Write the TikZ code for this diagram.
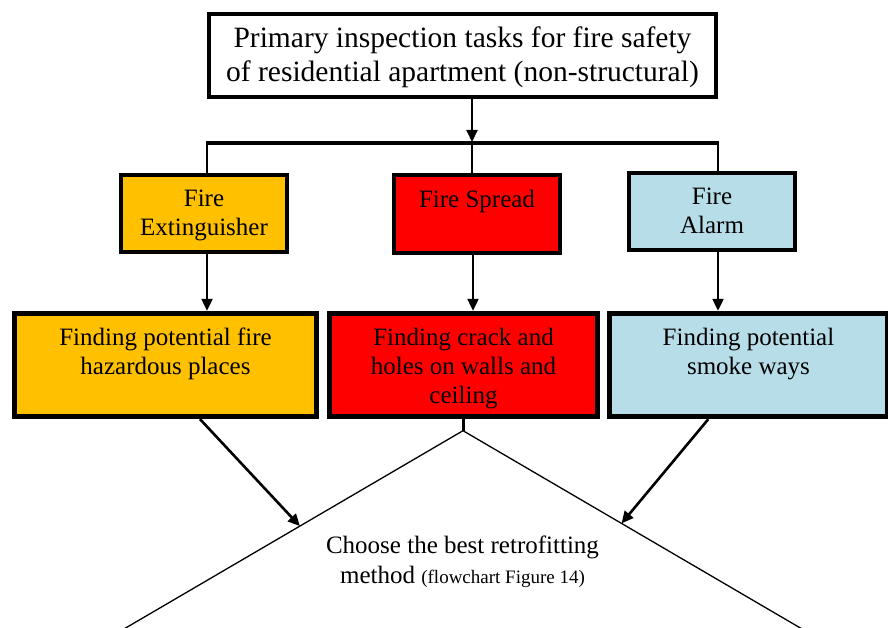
\documentclass[tikz,border=0pt]{standalone}
\usepackage{fontspec}
\setmainfont{Liberation Serif}
\usetikzlibrary{arrows.meta,calc}
\definecolor{orgfill}{HTML}{FFC000}
\definecolor{redfill}{HTML}{FF0000}
\definecolor{bluefill}{HTML}{B7DEE8}
\newcommand\boxtxt[2]{\parbox[t]{#1}{\centering #2}}
\newcommand\fntTop{\fontsize{29.5}{34}\selectfont}
\newcommand\fntBox{\fontsize{25}{29}\selectfont}
\newcommand\fntChoose{\fontsize{25}{30}\selectfont}
\newcommand\fntSmall{\fontsize{19}{22}\selectfont}
\begin{document}
\begin{tikzpicture}[x=1pt,y=-1pt,
  bx/.style={draw=black, line width=4pt, inner sep=0pt, anchor=center},
  lowbx/.style={draw=black, line width=4.8pt, inner sep=0pt, anchor=center, text height=31.75pt, text depth=71.75pt},
  busline/.style={line width=4pt},
  conn/.style={line width=2pt},
  arr/.style={line width=2pt, -{Triangle[length=12pt,width=11pt]}},
  diagarr/.style={line width=2.6pt, -{Triangle[length=12pt,width=11pt]}},
  dia/.style={line width=1.3pt}]
\useasboundingbox (0,0) rectangle (888,628);

% boxes
\node[bx, fill=white, text height=34pt, text depth=49pt] (top) at (462.5,55.5)
  {\boxtxt{507pt}{\fntTop Primary inspection tasks for fire safety\\of residential apartment (non-structural)}};
\node[bx, fill=orgfill, text height=32pt, text depth=45pt] (ext) at (204,213.5)
  {\boxtxt{166pt}{\fntBox Fire\\Extinguisher}};
\node[bx, fill=redfill, text height=33pt, text depth=45pt] (spr) at (477,214)
  {\boxtxt{166pt}{\fntBox Fire Spread}};
\node[bx, fill=bluefill, text height=32pt, text depth=45pt] (alm) at (712,211.5)
  {\boxtxt{166pt}{\fntBox Fire\\Alarm}};

\node[lowbx, fill=orgfill] (lowL) at (165.5,365)
  {\boxtxt{302.5pt}{\fntBox Finding potential fire\\hazardous places}};
\node[lowbx, fill=redfill] (lowM) at (463.5,365)
  {\boxtxt{268.5pt}{\fntBox Finding crack and\\holes on walls and\\ceiling}};
\node[lowbx, fill=bluefill] (lowR) at (748.5,365)
  {\boxtxt{278.5pt}{\fntBox Finding potential\\smoke ways}};

% decision
\coordinate (apex) at (463,430.7);
\coordinate (dL) at (-50,730.7);
\coordinate (dB) at (463,1030.7);
\coordinate (dR) at (976,730.7);
\draw[dia] (apex) -- (dL) -- (dB) -- (dR) -- cycle;
\node[anchor=base, inner sep=0pt] (choose) at (462.5,553.3)
  {\parbox[t]{320pt}{\centering\fntChoose Choose the best retrofitting\\method {\fntSmall (flowchart Figure 14)}}};

% bus and connectors
\coordinate (busL) at (207,143.5);
\coordinate (busM) at (472,143.5);
\coordinate (busR) at (718,143.5);
\draw[arr] (top.south -| busM) -- ($(busM)+(0,-1.5)$);
\draw[busline] ($(busL)+(-1,0)$) -- ($(busR)+(1,0)$);
\draw[conn] (busL) -- (busL |- ext.north);
\draw[conn] (busM) -- (busM |- spr.north);
\draw[conn] (busR) -- (busR |- alm.north);

\draw[arr] (ext.south -| busL) -- (busL |- lowL.north);
\draw[arr] ($(spr.south -| busM)+(1,0)$) -- ($(busM |- lowM.north)+(1,0)$);
\draw[arr] (alm.south -| busR) -- (busR |- lowR.north);

\draw[line width=3pt] (lowM.south -| apex) -- (apex);

\coordinate (hitL) at ($(apex)!0.318!(dL)$);
\coordinate (hitR) at ($(apex)!0.309!(dR)$);
\draw[diagarr] ($(lowL.south)+(34.5,0)$) -- (hitL);
\draw[diagarr] ($(lowR.south)+(-40.2,0)$) -- (hitR);
\end{tikzpicture}
\end{document}
